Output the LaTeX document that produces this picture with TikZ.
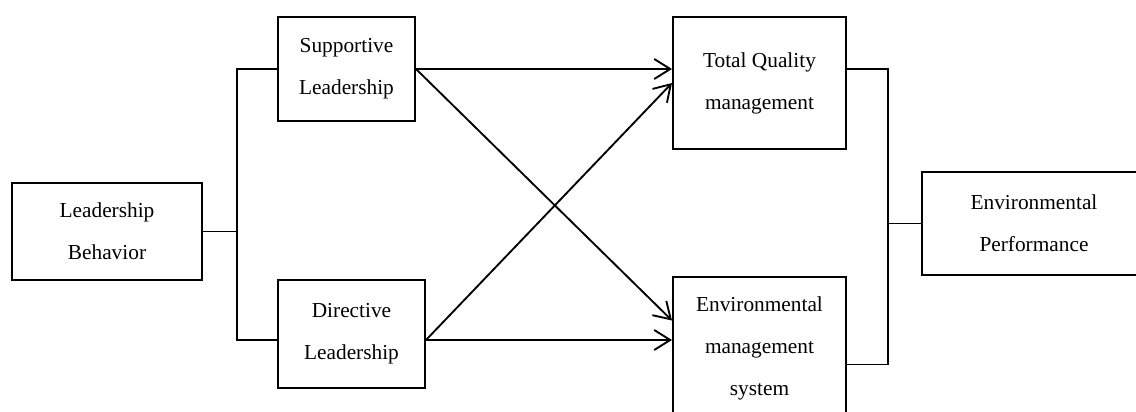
\documentclass[tikz,border=0pt]{standalone}
\usepackage{fontspec}
\setmainfont{Liberation Serif}
\usetikzlibrary{arrows.meta}

\begin{document}
\begin{tikzpicture}[x=0.75pt,y=-0.75pt,
    box/.style={draw,line width=1.5pt,align=center,inner sep=0pt,font=\fontsize{16}{31.5}\selectfont},
    link/.style={line width=1.4pt},
    arr/.style={link,-{Straight Barb[length=12pt,width=15pt,line width=1.4pt]}}]
    \clip (0,0) rectangle (1136,411);

    % left part
    \node[box,minimum width=142.5pt,minimum height=72.75pt] (lb) at (107,231.5) {Leadership\\Behavior};
    \node[box,minimum width=102.75pt,minimum height=78pt] (sup) at (346.5,69) {Supportive\\Leadership};
    \node[box,minimum width=110.25pt,minimum height=81pt] (dir) at (351.5,334) {Directive\\Leadership};

    % middle and right part
    \node[box,minimum width=129.75pt,minimum height=99pt] (tqm) at (759.5,83) {Total Quality\\management};
    \node[box,minimum width=129.75pt,minimum height=107.25pt] (ems) at (759.5,348.5) {Environmental\\management\\system};
    \node[box,minimum width=168pt,minimum height=77.25pt] (ep) at (1034,223.5) {Environmental\\Performance};

    % branching lines
    \coordinate (lsplit) at ([xshift=25.5pt]lb.east);
    \coordinate (rsplit) at ([xshift=-24.75pt]ep.west);
    \draw[link] (lb.east) -- (lsplit);
    \draw[link] (sup.west) -| (lsplit) |- ([yshift=-4.5pt]dir.west);
    \draw[link] (tqm.east |- sup.west) -| (rsplit) |- ([yshift=-12pt]ems.east);
    \draw[link] (rsplit) -- (ep.west);

    % arrows
    \draw[arr] (sup.east) -- (tqm.west |- sup.east);
    \draw[arr] (sup.east) -- ([yshift=21pt]ems.west);
    \draw[arr] ([yshift=-4.5pt]dir.east) -- (tqm.west);
    \draw[arr] ([yshift=-4.5pt]dir.east) -- ([yshift=-4.5pt]ems.west |- dir.east);
\end{tikzpicture}
\end{document}
